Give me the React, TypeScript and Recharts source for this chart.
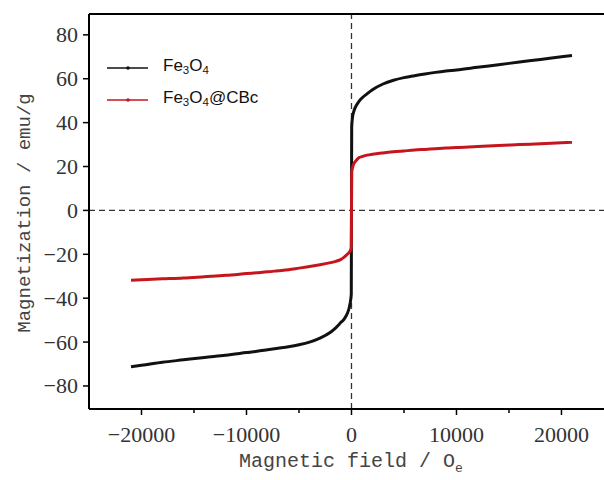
import React from 'react';
import { LineChart, Line, XAxis, YAxis, ReferenceLine, Legend, Customized } from 'recharts';

// applied field (Oe), swept from negative to positive saturation
const fieldOe = [
  -21000, -20000, -18000, -16000, -14000, -12000, -10000, -9000, -8000, -7000, -6000,
  -5000, -4000, -3000, -2000, -1500, -1000, -700, -400, -200, -100, -20,
  20, 100, 200, 400, 700, 1000, 1500, 2000, 3000, 4000, 5000,
  6000, 7000, 8000, 9000, 10000, 12000, 14000, 16000, 18000, 20000, 21000,
];

// magnetization (emu/g)
const fe3o4 = [
  -71.2, -70.6, -69.2, -68.1, -67, -66, -64.8, -64.2, -63.5, -62.8, -62.1,
  -61.2, -60, -58.2, -55.5, -53.5, -51, -49.5, -47, -44, -41.5, -38,
  38, 42.5, 44.8, 47.3, 49.6, 51.2, 53.2, 55, 57.6, 59.3, 60.5,
  61.4, 62.2, 62.9, 63.5, 64, 65.2, 66.4, 67.6, 68.8, 70, 70.6,
];

const fe3o4Cbc = [
  -31.8, -31.6, -31.2, -30.8, -30.2, -29.6, -28.8, -28.4, -28, -27.5, -27,
  -26.3, -25.6, -24.8, -23.8, -23.2, -22.3, -21.3, -20, -19, -18.2, -17,
  17.5, 19.5, 21, 22.5, 24, 24.5, 25.2, 25.6, 26.2, 26.7, 27.1,
  27.5, 27.8, 28.1, 28.4, 28.7, 29.1, 29.6, 30, 30.4, 30.8, 31,
];

const xTicks = [-20000, -15000, -10000, -5000, 0, 5000, 10000, 15000, 20000];
const xLabelled = [-20000, -10000, 0, 10000, 20000];
const yTicks = [-80, -70, -60, -50, -40, -30, -20, -10, 0, 10, 20, 30, 40, 50, 60, 70, 80];
const yLabelled = [-80, -60, -40, -20, 0, 20, 40, 60, 80];

const data = fieldOe.map((h, i) => ({ h, fe: fe3o4[i], cbc: fe3o4Cbc[i] }));

const BLACK = '#111';
const RED = '#c4161c';
const serif = '"Liberation Serif", "Times New Roman", serif';
const mono = '"Liberation Mono", "DejaVu Sans Mono", monospace';
const sans = '"Liberation Sans", Arial, sans-serif';

const fmt = (v: number) => (v < 0 ? `\u2212${Math.abs(v)}` : `${v}`);

const XTick = (props: any) => {
  const { x, y, payload } = props;
  const major = xLabelled.includes(payload.value);
  return (
    <g>
      <line x1={x} x2={x} y1={y} y2={y + (major ? 6 : 4)} stroke="#000" strokeWidth={1.5} />
      {major && (
        <text x={x} y={y + 33} textAnchor="middle" fontFamily={serif} fontSize={22} fill="#333">
          {fmt(payload.value)}
        </text>
      )}
    </g>
  );
};

const YTick = (props: any) => {
  const { x, y, payload } = props;
  const major = yLabelled.includes(payload.value);
  return (
    <g>
      <line x1={x} x2={x - (major ? 6 : 4)} y1={y} y2={y} stroke="#000" strokeWidth={1.5} />
      {major && (
        <text x={x - 11} y={y + 7.5} textAnchor="end" fontFamily={serif} fontSize={22} fill="#333">
          {fmt(payload.value)}
        </text>
      )}
    </g>
  );
};

const sub = { fontSize: '0.68em', verticalAlign: '-0.3em' };

const legendItems = [
  { color: BLACK, label: <>Fe<span style={sub}>3</span>O<span style={sub}>4</span></> },
  { color: RED, label: <>Fe<span style={sub}>3</span>O<span style={sub}>4</span>@CBc</> },
];

const LegendBox = () => (
  <div style={{ fontFamily: sans, fontSize: 17, color: '#111' }}>
    {legendItems.map((it, i) => (
      <div key={i} style={{ display: 'flex', alignItems: 'center', height: 32 }}>
        <svg width={41} height={8}>
          <line x1={0} x2={41} y1={4} y2={4} stroke={it.color} strokeWidth={1.3} />
          <circle cx={21} cy={4} r={1.8} fill={it.color} />
        </svg>
        <span style={{ marginLeft: 15, lineHeight: '20px' }}>{it.label}</span>
      </div>
    ))}
  </div>
);

const AxisTitles = () => (
  <g fontFamily={mono} fill="#444">
    <text
      x={25}
      y={213}
      fontSize={19}
      textAnchor="middle"
      dominantBaseline="central"
      transform="rotate(-90 25 213)"
    >
      Magnetization / emu/g
    </text>
    <text x={351} y={467} fontSize={20} textAnchor="middle">
      Magnetic field / O<tspan fontSize={13} dy={5}>e</tspan>
    </text>
  </g>
);

export default function App() {
  return (
    <div style={{ position: 'absolute', left: 0, top: 0, width: 604, height: 480, background: '#fff' }}>
      <LineChart width={604} height={480} data={data} margin={{ top: 13, right: 0, bottom: 70, left: 88 }}>
        <XAxis
          dataKey="h"
          type="number"
          domain={[-25000, 24050]}
          ticks={xTicks}
          allowDataOverflow
          height={1}
          tickSize={0}
          tickMargin={0}
          tickLine={false}
          tick={<XTick />}
          axisLine={{ stroke: '#000', strokeWidth: 2 }}
        />
        <XAxis
          xAxisId="top"
          dataKey="h"
          type="number"
          orientation="top"
          domain={[-25000, 24050]}
          height={1}
          tick={false}
          tickLine={false}
          axisLine={{ stroke: '#000', strokeWidth: 2 }}
        />
        <YAxis
          type="number"
          domain={[-90.5, 89.5]}
          ticks={yTicks}
          allowDataOverflow
          width={1}
          tickSize={0}
          tickMargin={0}
          tickLine={false}
          tick={<YTick />}
          axisLine={{ stroke: '#000', strokeWidth: 2 }}
        />
        <ReferenceLine x={0} stroke="#333" strokeWidth={1.3} strokeDasharray="6 4" />
        <ReferenceLine y={0} stroke="#333" strokeWidth={1.3} strokeDasharray="6 4" />
        <Line
          dataKey="fe"
          name="Fe3O4"
          type="monotone"
          stroke={BLACK}
          strokeWidth={3}
          dot={false}
          isAnimationActive={false}
        />
        <Line
          dataKey="cbc"
          name="Fe3O4@CBc"
          type="monotone"
          stroke={RED}
          strokeWidth={3}
          dot={false}
          isAnimationActive={false}
        />
        <Legend
          layout="horizontal"
          verticalAlign="middle"
          align="center"
          content={() => <LegendBox />}
          wrapperStyle={{ left: 107, top: 52, width: 220, height: 64 }}
        />
        <Customized component={AxisTitles} />
      </LineChart>
    </div>
  );
}
